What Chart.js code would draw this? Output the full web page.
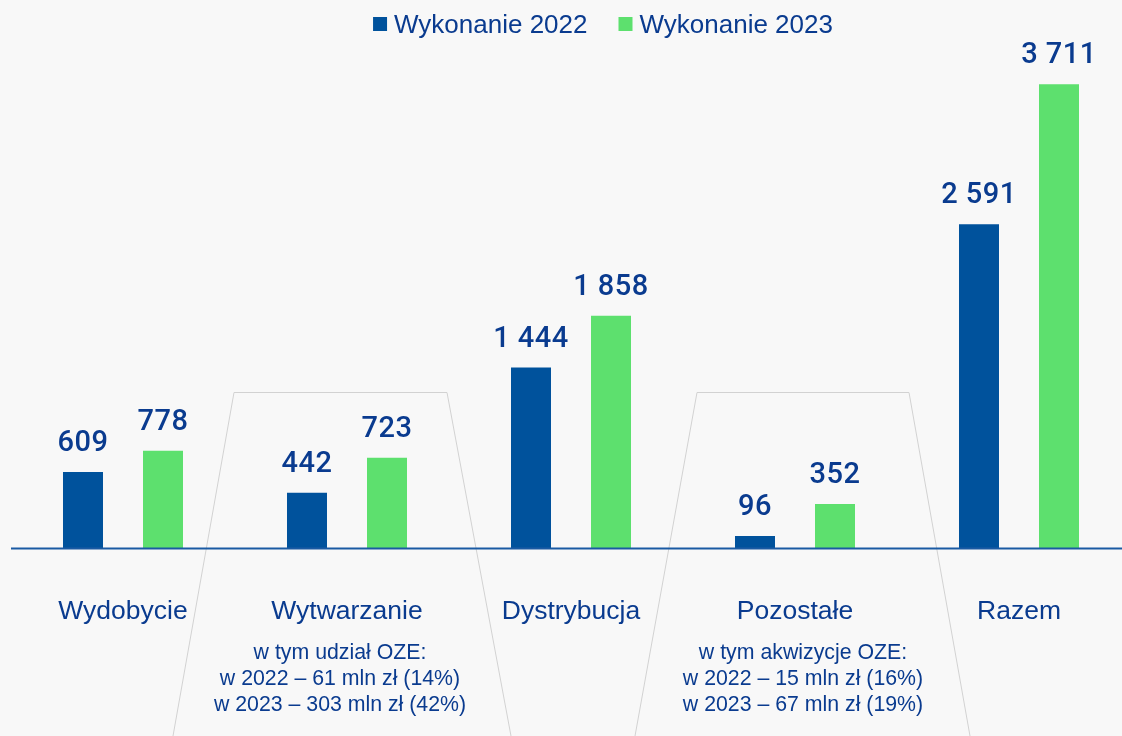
<!DOCTYPE html>
<html>
<head>
<meta charset="utf-8">
<script src="https://cdn.jsdelivr.net/npm/chart.js@4.4.1/dist/chart.umd.min.js"></script>
<style>
  html, body { margin: 0; padding: 0; background: #f8f8f8; overflow: hidden; }
  #wrap { position: relative; width: 1140px; height: 736px; }
</style>
</head>
<body>
<div id="wrap"><canvas id="c"></canvas></div>
<script>
// ---- data ----
const categories = ['Wydobycie', 'Wytwarzanie', 'Dystrybucja', 'Pozostałe', 'Razem'];
const series2022 = [609, 442, 1444, 96, 2591];
const series2023 = [778, 723, 1858, 352, 3711];
const seriesNames = ['Wykonanie 2022', 'Wykonanie 2023'];
const subLabels = {
  1: ['w tym udział OZE:', 'w 2022 – 61 mln zł (14%)', 'w 2023 – 303 mln zł (42%)'],
  3: ['w tym akwizycje OZE:', 'w 2022 – 15 mln zł (16%)', 'w 2023 – 67 mln zł (19%)']
};

// ---- style ----
const BLUE = '#00529c';
const GREEN = '#5de06e';
const TEXT = '#0a3b8f';
const LINE_GRAY = '#d2d2d2';

function fmt(v) {
  return String(v).replace(/\B(?=(\d{3})+(?!\d))/g, ' ');
}

// decorative trapezoids: offsets relative to category center
const trapezoids = {
  1: { topL: -113, topR: 100, botL: -174, botR: 164, labelOff: -7 },
  3: { topL: -98, topR: 114, botL: -160, botR: 175, labelOff: 8 }
};

const decorPlugin = {
  id: 'decor',
  beforeDatasetsDraw(chart) {
    const ctx = chart.ctx;
    const xs = chart.scales.x;
    ctx.save();
    ctx.strokeStyle = LINE_GRAY;
    ctx.lineWidth = 1;
    Object.keys(trapezoids).forEach(k => {
      const t = trapezoids[k];
      const cx = xs.getPixelForValue(Number(k));
      ctx.beginPath();
      ctx.moveTo(cx + t.botL, 736);
      ctx.lineTo(cx + t.topL, 392.5);
      ctx.lineTo(cx + t.topR, 392.5);
      ctx.lineTo(cx + t.botR, 736);
      ctx.stroke();
    });
    ctx.restore();
  },
  afterDatasetsDraw(chart) {
    const ctx = chart.ctx;
    const xs = chart.scales.x;
    const ys = chart.scales.y;
    const area = chart.chartArea;
    ctx.save();
    // baseline
    const y0 = ys.getPixelForValue(0);
    ctx.strokeStyle = '#1a5aa3';
    ctx.lineWidth = 2;
    ctx.beginPath();
    ctx.moveTo(area.left, y0 + 0.5);
    ctx.lineTo(chart.width, y0 + 0.5);
    ctx.stroke();

    // value labels
    ctx.fillStyle = TEXT;
    ctx.font = '500 29px Roboto';
    try { ctx.letterSpacing = '0.5px'; } catch (e) {}
    ctx.textAlign = 'center';
    ctx.textBaseline = 'alphabetic';
    chart.data.datasets.forEach((ds, di) => {
      chart.getDatasetMeta(di).data.forEach((bar, i) => {
        ctx.fillText(fmt(ds.data[i]), bar.x, bar.y - 21);
      });
    });
    try { ctx.letterSpacing = '0px'; } catch (e) {}

    // category labels
    ctx.font = '26.5px "Liberation Sans", Arial, sans-serif';
    categories.forEach((c, i) => {
      ctx.fillText(c, xs.getPixelForValue(i), 619);
    });
    // sub labels
    ctx.font = '21.3px "Liberation Sans", Arial, sans-serif';
    Object.keys(subLabels).forEach(k => {
      const cx = xs.getPixelForValue(Number(k)) + trapezoids[k].labelOff;
      subLabels[k].forEach((line, j) => {
        ctx.fillText(line, cx, 659 + j * 26);
      });
    });

    // legend
    ctx.font = '26px "Liberation Sans", Arial, sans-serif';
    ctx.textAlign = 'left';
    const colors = [BLUE, GREEN];
    const boxW = 14, gapBoxText = 7, gapItems = 31;
    let total = 0;
    const widths = seriesNames.map(n => ctx.measureText(n).width);
    widths.forEach((w, i) => { total += boxW + gapBoxText + w + (i ? gapItems : 0); });
    let x = 603 - total / 2;
    seriesNames.forEach((n, i) => {
      ctx.fillStyle = colors[i];
      ctx.fillRect(x, 17, boxW, boxW);
      ctx.fillStyle = TEXT;
      ctx.fillText(n, x + boxW + gapBoxText, 33);
      x += boxW + gapBoxText + widths[i] + gapItems;
    });
    ctx.restore();
  }
};

new Chart(document.getElementById('c'), {
  type: 'bar',
  data: {
    labels: categories,
    datasets: [
      { label: seriesNames[0], data: series2022, backgroundColor: BLUE },
      { label: seriesNames[1], data: series2023, backgroundColor: GREEN }
    ]
  },
  options: {
    responsive: true,
    maintainAspectRatio: false,
    animation: false,
    categoryPercentage: 0.7143,
    barPercentage: 0.5,
    layout: { padding: { top: 48, bottom: 188, left: 11, right: 9 } },
    plugins: { legend: { display: false }, tooltip: { enabled: false } },
    scales: {
      x: { display: false },
      y: { display: false, min: 0, max: 4000 }
    }
  },
  plugins: [decorPlugin]
});
</script>
</body>
</html>
